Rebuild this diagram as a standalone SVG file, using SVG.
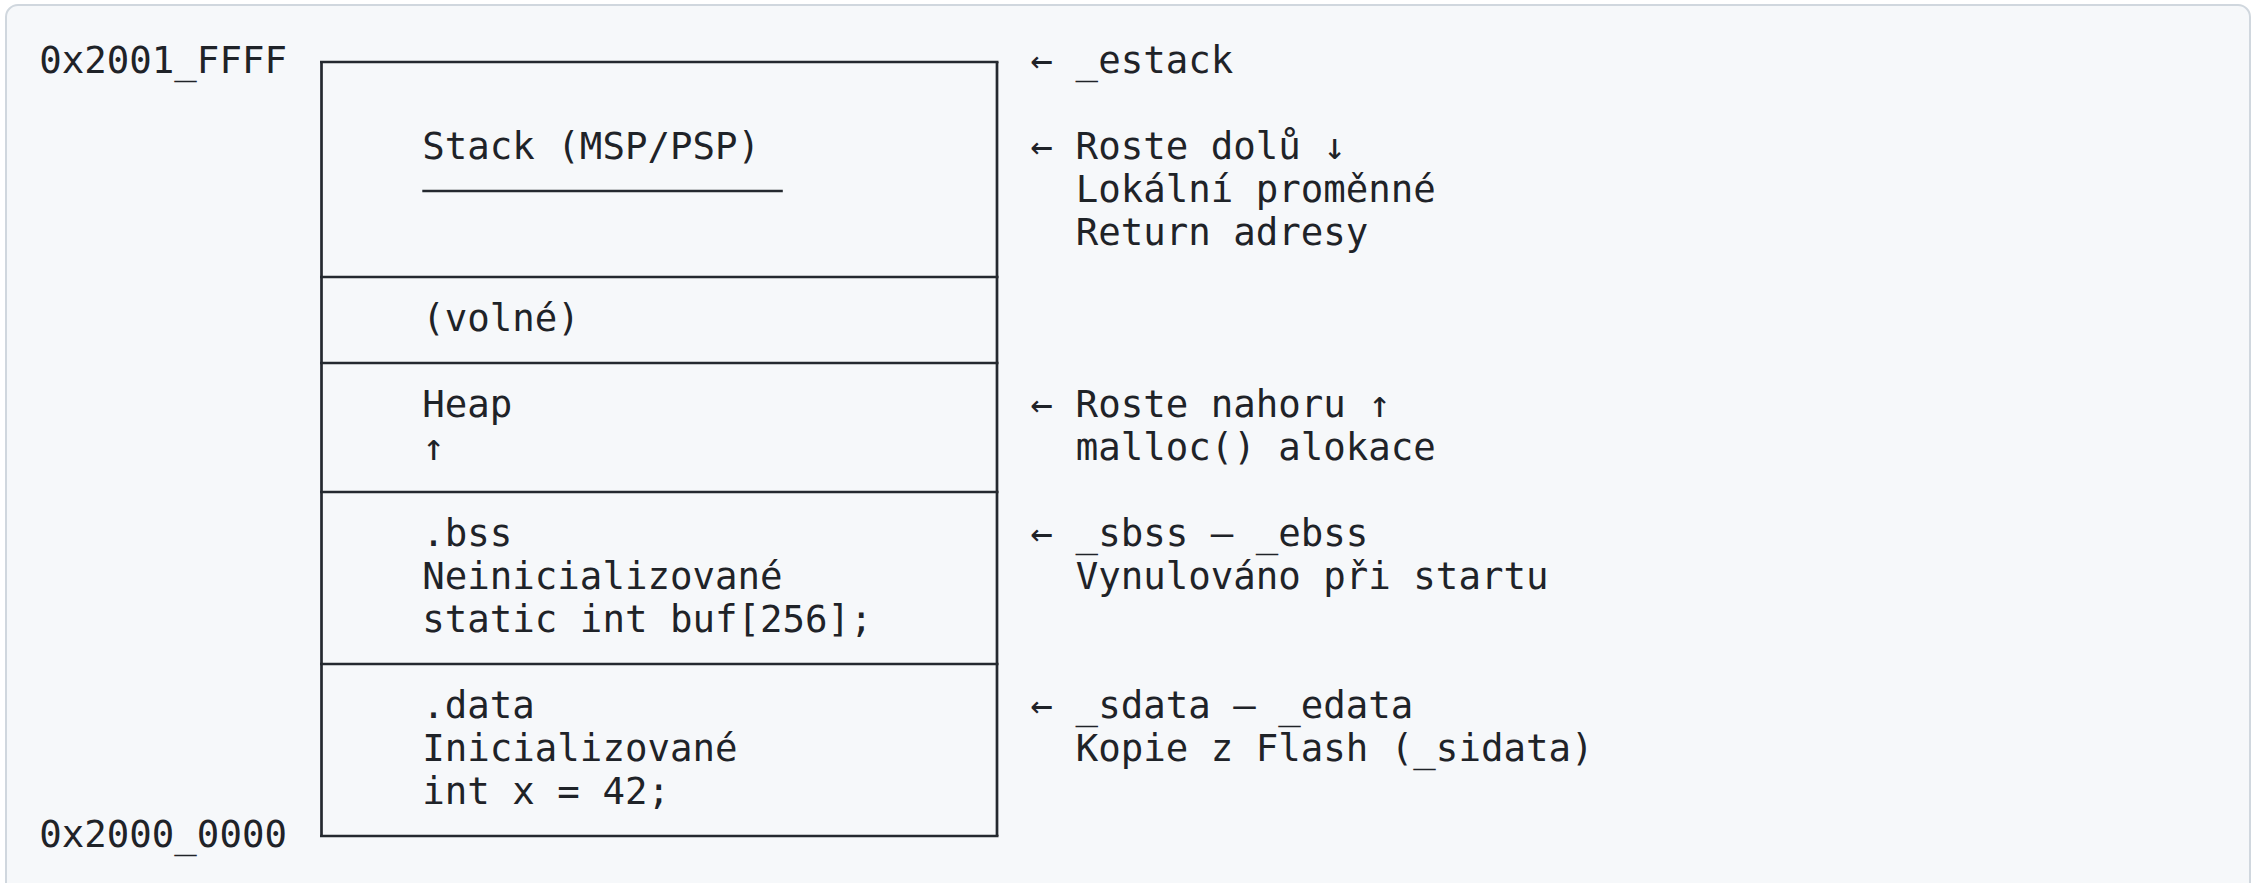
<svg xmlns="http://www.w3.org/2000/svg" width="2255" height="883" viewBox="0 0 2255 883">
<style>
.t{font-family:"DejaVu Sans Mono","Liberation Mono",monospace;font-size:37.4px;fill:#1f2328;white-space:pre}
.ln{stroke:#24292f;stroke-width:2.7;fill:none}
</style>
<rect x="0" y="0" width="2255" height="883" fill="#ffffff"/>
<rect x="6" y="5" width="2244" height="920" rx="12" ry="12" fill="#f6f8fa" stroke="#d0d7de" stroke-width="2"/>
<g id="addresses">
<text class="t" x="39.3" y="73.3">0x2001_FFFF</text>
<text class="t" x="39.3" y="847.3">0x2000_0000</text>
</g>
<g id="connectors">
<line class="ln" x1="321.5" y1="62" x2="321.5" y2="836"/>
<line class="ln" x1="997" y1="62" x2="997" y2="836"/>
</g>
<g id="stack">
<line class="ln" x1="320" y1="62" x2="998.5" y2="62"/>
<text class="t" x="422.3" y="159.3">Stack (MSP/PSP)</text>
<line class="ln" x1="422.3" y1="191" x2="782.8" y2="191"/>
</g>
<g id="free">
<line class="ln" x1="320" y1="277" x2="998.5" y2="277"/>
<text class="t" x="422.3" y="331.3">(volné)</text>
</g>
<g id="heap">
<line class="ln" x1="320" y1="363" x2="998.5" y2="363"/>
<text class="t" x="422.3" y="417.3">Heap</text>
<text class="t" x="422.3" y="460.3">↑</text>
</g>
<g id="bss">
<line class="ln" x1="320" y1="492" x2="998.5" y2="492"/>
<text class="t" x="422.3" y="546.3">.bss</text>
<text class="t" x="422.3" y="589.3">Neinicializované</text>
<text class="t" x="422.3" y="632.3">static int buf[256];</text>
</g>
<g id="data">
<line class="ln" x1="320" y1="664" x2="998.5" y2="664"/>
<text class="t" x="422.3" y="718.3">.data</text>
<text class="t" x="422.3" y="761.3">Inicializované</text>
<text class="t" x="422.3" y="804.3">int x = 42;</text>
<line class="ln" x1="320" y1="836" x2="998.5" y2="836"/>
</g>
<g id="notes">
<text class="t" x="1030.6" y="73.3">← _estack</text>
<text class="t" x="1030.6" y="159.3">← Roste dolů ↓</text>
<text class="t" x="1075.7" y="202.3">Lokální proměnné</text>
<text class="t" x="1075.7" y="245.3">Return adresy</text>
<text class="t" x="1030.6" y="417.3">← Roste nahoru ↑</text>
<text class="t" x="1075.7" y="460.3">malloc() alokace</text>
<text class="t" x="1030.6" y="546.3">← _sbss – _ebss</text>
<text class="t" x="1075.7" y="589.3">Vynulováno při startu</text>
<text class="t" x="1030.6" y="718.3">← _sdata – _edata</text>
<text class="t" x="1075.7" y="761.3">Kopie z Flash (_sidata)</text>
</g>
</svg>
